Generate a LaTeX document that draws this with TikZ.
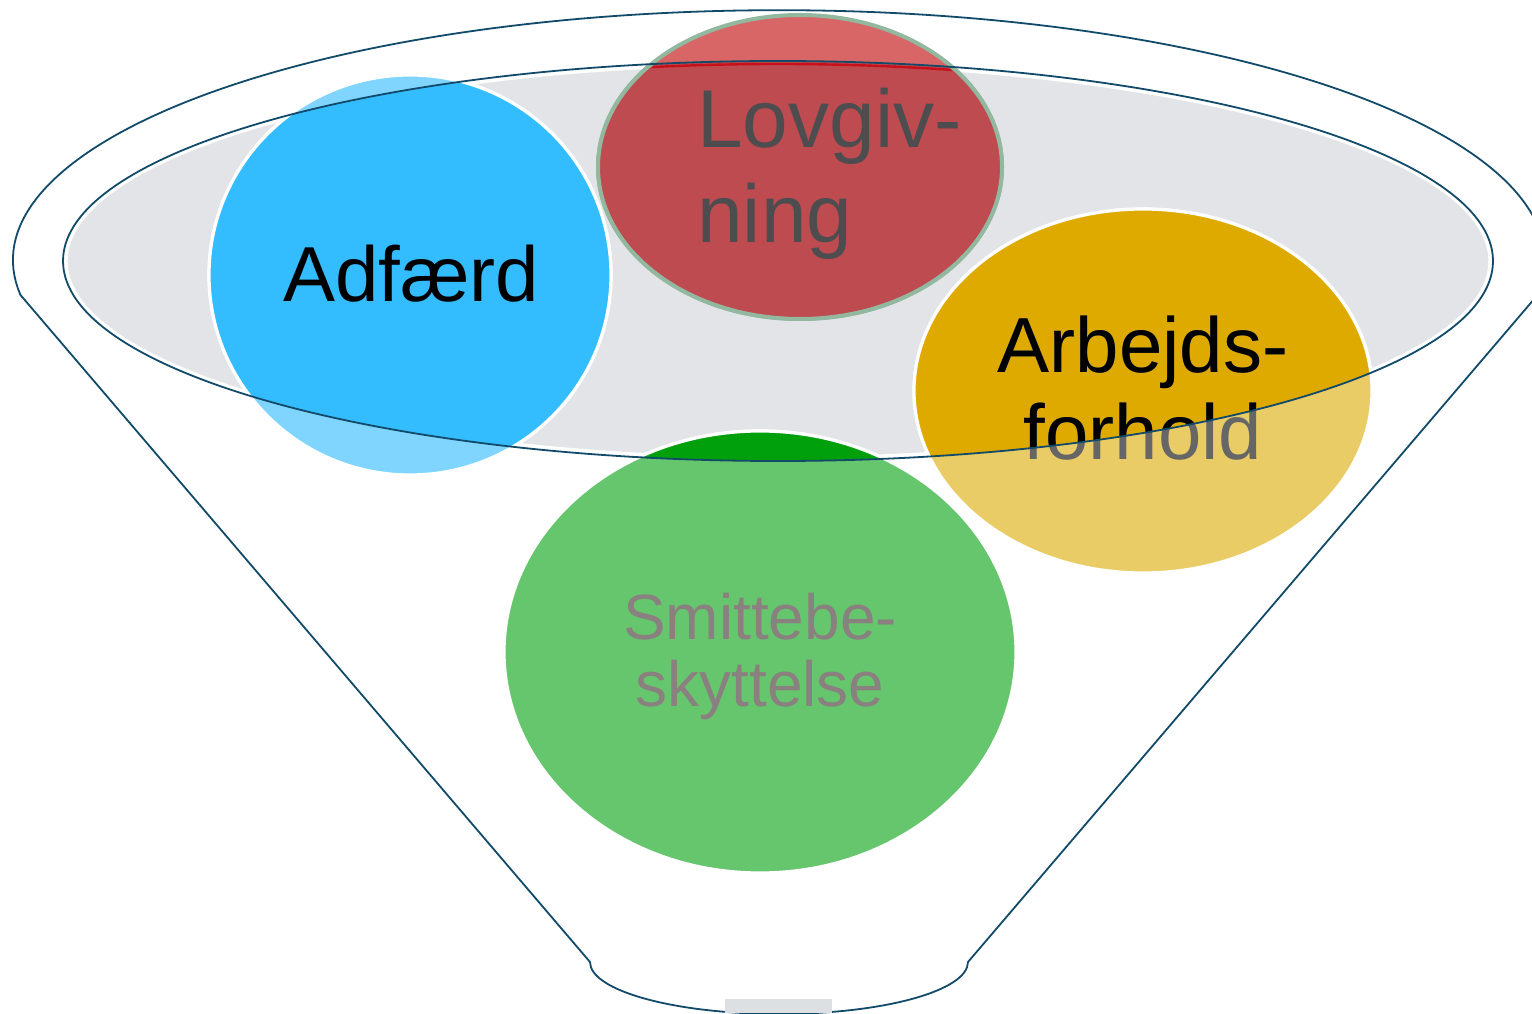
\documentclass[tikz,border=0pt]{standalone}
\usepackage{fontspec}
\setmainfont{Liberation Sans}
\usepackage{tikz}
\usepackage{xcolor}
\usetikzlibrary{positioning}

\definecolor{funnelline}{HTML}{124A6A}
\definecolor{bowlgray}{HTML}{E3E4E8}
\definecolor{traygray}{HTML}{DDE0E3}
\definecolor{blueIn}{HTML}{33BDFF}
\definecolor{blueOut}{HTML}{80D5FF}
\definecolor{redIn}{HTML}{BE4B4F}
\definecolor{redOut}{HTML}{D86666}
\definecolor{redRim}{HTML}{93B8A0}
\definecolor{redEdge}{HTML}{C8101A}
\definecolor{yellowIn}{HTML}{DFAA00}
\definecolor{yellowOut}{HTML}{EACC66}
\definecolor{greenIn}{HTML}{00A00C}
\definecolor{greenOut}{HTML}{66C66D}
\definecolor{lovtext}{HTML}{4D4D50}
\definecolor{fadetext}{HTML}{666666}
\definecolor{smittetext}{HTML}{8A8080}

\tikzset{
  funnel/.style={draw=funnelline, line width=0.9pt},
  rim/.style={draw=white, line width=1.6pt},
  word/.style={inner sep=0pt, anchor=base, align=center},
  bowlsize/.style={x radius=715, y radius=200},
  adfsize/.style={x radius=201, y radius=200},
  lovsize/.style={x radius=202, y radius=152},
  arbsize/.style={x radius=229, y radius=182},
  smisize/.style={x radius=256, y radius=221},
}

\begin{document}
\begin{tikzpicture}[x=0.5pt, y=0.5pt]
\useasboundingbox (0,0) rectangle (1532,1013);
\clip (0,0) rectangle (1532,1013);

\coordinate (bowl) at (778,752);
\coordinate (bowlred) at (778,749);
\coordinate (adf) at (410,738);
\coordinate (lov) at (800,846);
\coordinate (arb) at (1143,622);
\coordinate (smi) at (760,361);

% funnel outline and tray
\draw[funnel] (590,51) -- (20.5,718)
  arc[start angle=188, end angle=-8, x radius=766, y radius=250]
  -- (968,51) arc[start angle=0, end angle=-180, x radius=189, y radius=52];
\fill[traygray] (725,0) rectangle (832,14);

% bowl
\filldraw[fill=bowlgray, rim] (bowl) ellipse [x radius=712, y radius=197];

% bubbles, faded part
\filldraw[fill=blueOut, rim] (adf) ellipse [adfsize];
\filldraw[fill=redOut, draw=redRim, line width=2pt] (lov) ellipse [lovsize];
\filldraw[fill=greenOut, rim] (smi) ellipse [smisize];
\filldraw[fill=yellowOut, rim] (arb) ellipse [arbsize];

% bubbles, part inside the bowl
\begin{scope}
  \clip (bowl) ellipse [bowlsize];
  \filldraw[fill=blueIn, rim] (adf) ellipse [adfsize];
  \filldraw[fill=redIn, draw=redRim, line width=2pt] (lov) ellipse [lovsize];
  \filldraw[fill=greenIn, rim] (smi) ellipse [smisize];
  \filldraw[fill=yellowIn, rim] (arb) ellipse [arbsize];
\end{scope}
\begin{scope}
  \clip (lov) ellipse [x radius=199, y radius=149];
  \draw[redEdge, line width=1.2pt] (bowlred) ellipse [bowlsize];
\end{scope}

% labels
\node[word, font=\fontsize{39}{43.5}\selectfont] (adfaerd) at (411,711) {Adfærd};
\node[word, anchor=base west, align=left, text=lovtext,
  font=\fontsize{41}{47.5}\selectfont] (lovgivning) at (697,770) {Lovgiv-\\ning};
\node[word, text=fadetext, font=\fontsize{39}{43.5}\selectfont] (arbejdsfaded) at (1143,553) {Arbejds-\\forhold};
\begin{scope}
  \clip (bowl) ellipse [bowlsize];
  \node[word, font=\fontsize{39}{43.5}\selectfont] (arbejds) at (1143,553) {Arbejds-\\forhold};
\end{scope}
\node[word, text=smittetext, font=\fontsize{32}{33.5}\selectfont] (smitte) at (760,306) {Smittebe-\\skyttelse};

% bowl edge on top
\draw[funnel] (bowl) ellipse [bowlsize];
\end{tikzpicture}
\end{document}
